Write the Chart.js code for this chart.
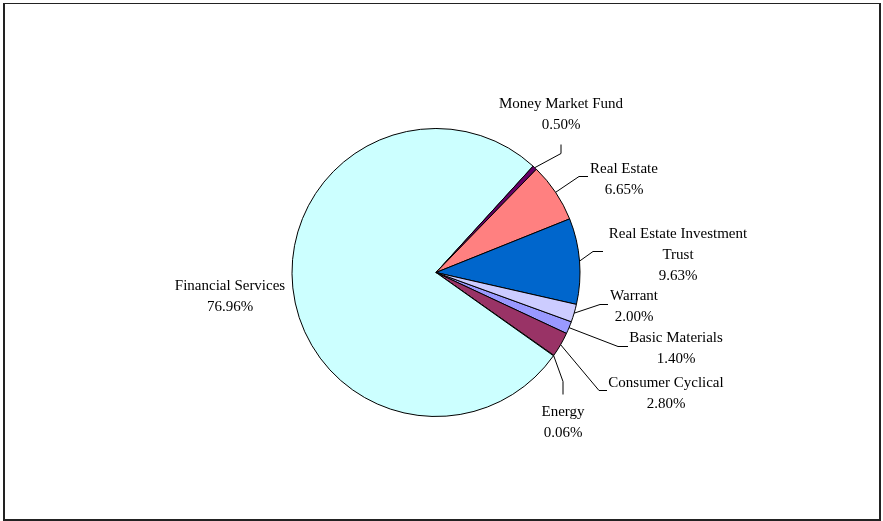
<!DOCTYPE html>
<html>
<head>
<meta charset="utf-8">
<title>Sector allocation</title>
<script src="https://cdn.jsdelivr.net/npm/chart.js@4"></script>
<style>
  html, body { margin: 0; padding: 0; background: #fff; }
  canvas { display: block; }
</style>
</head>
<body>
<canvas id="sectorPie" width="883" height="521"></canvas>
<script>
// Dados do gráfico (em ordem alfabética, como no original)
const sectors = ['Basic Materials', 'Consumer Cyclical', 'Energy', 'Financial Services',
  'Money Market Fund', 'Real Estate', 'Real Estate Investment Trust', 'Warrant'];
const weights = [1.40, 2.80, 0.06, 76.96, 0.50, 6.65, 9.63, 2.00];
const sliceColors = ['#9999FF', '#993366', '#FFFFCC', '#CCFFFF', '#660066', '#FF8080', '#0066CC', '#CCCCFF'];

// Posição dos rótulos relativa ao centro da pizza (texto, cotovelo e fim da linha guia)
const labelSpots = [
  { tx: 240, ty: 66, ex: 182, ey: 74, hx: 192, hy: 74 },
  { tx: 230, ty: 111, ex: 163, ey: 118, hx: 171, hy: 118 },
  { tx: 127, ty: 140, ex: 127, ey: 109, hx: 127, hy: 122 },
  { tx: -206, ty: 14, ex: null },
  { tx: 125, ty: -168, ex: 125, ey: -119, hx: 125, hy: -128 },
  { tx: 188, ty: -103, ex: 143, ey: -96, hx: 152, hy: -96 },
  { tx: 242, ty: -38, ex: 157, ey: -21, hx: 167, hy: -21 },
  { tx: 198, ty: 24, ex: 164, ey: 32, hx: 172, hy: 32 }
];

// Moldura externa
const framePlugin = {
  id: 'frame',
  beforeDraw(chart) {
    const ctx = chart.ctx;
    ctx.save();
    ctx.fillStyle = '#fff';
    ctx.fillRect(0, 0, chart.width, chart.height);
    ctx.fillStyle = '#222';
    ctx.fillRect(3, 3, 2, 517);
    ctx.fillRect(3, 3, 878, 1);
    ctx.fillRect(879, 3, 2, 517);
    ctx.fillRect(3, 519, 878, 2);
    ctx.restore();
  }
};

function wrapText(ctx, text, maxW) {
  const words = text.split(' ');
  const lines = [];
  let cur = '';
  words.forEach(w => {
    const test = cur ? cur + ' ' + w : w;
    if (ctx.measureText(test).width > maxW && cur) {
      lines.push(cur);
      cur = w;
    } else {
      cur = test;
    }
  });
  lines.push(cur);
  return lines;
}

// Rótulos com linhas guia
const labelPlugin = {
  id: 'sliceLabels',
  afterDatasetsDraw(chart) {
    const ctx = chart.ctx;
    const meta = chart.getDatasetMeta(0);
    ctx.save();
    ctx.font = '15px "Liberation Serif", "Times New Roman", serif';
    ctx.textAlign = 'center';
    ctx.textBaseline = 'middle';
    meta.data.forEach((arc, i) => {
      const spot = labelSpots[i];
      const cx = arc.x, cy = arc.y;
      if (spot.ex !== null) {
        const mid = (arc.startAngle + arc.endAngle) / 2;
        const r = arc.outerRadius;
        ctx.strokeStyle = '#000';
        ctx.lineWidth = 1;
        ctx.beginPath();
        ctx.moveTo(cx + Math.cos(mid) * r, cy + Math.sin(mid) * r);
        ctx.lineTo(cx + spot.ex, cy + spot.ey);
        ctx.lineTo(cx + spot.hx, cy + spot.hy);
        ctx.stroke();
      }
      ctx.fillStyle = '#000';
      const lines = wrapText(ctx, sectors[i], 160);
      lines.push(weights[i].toFixed(2) + '%');
      lines.forEach((ln, k) => {
        ctx.fillText(ln, cx + spot.tx, cy + spot.ty + k * 21);
      });
    });
    ctx.restore();
  }
};

const pieChart = new Chart(document.getElementById('sectorPie'), {
  type: 'pie',
  data: {
    labels: sectors,
    datasets: [{
      data: weights,
      backgroundColor: sliceColors,
      borderColor: '#000',
      borderWidth: 1,
      hoverOffset: 0,
      offset: 0
    }]
  },
  options: {
    responsive: false,
    animation: false,
    devicePixelRatio: 1,
    rotation: 110,
    layout: { padding: { top: 128, bottom: 104, left: 291, right: 302 } },
    plugins: {
      legend: { display: false },
      tooltip: { enabled: false }
    }
  },
  plugins: [framePlugin, labelPlugin]
});
</script>
</body>
</html>
